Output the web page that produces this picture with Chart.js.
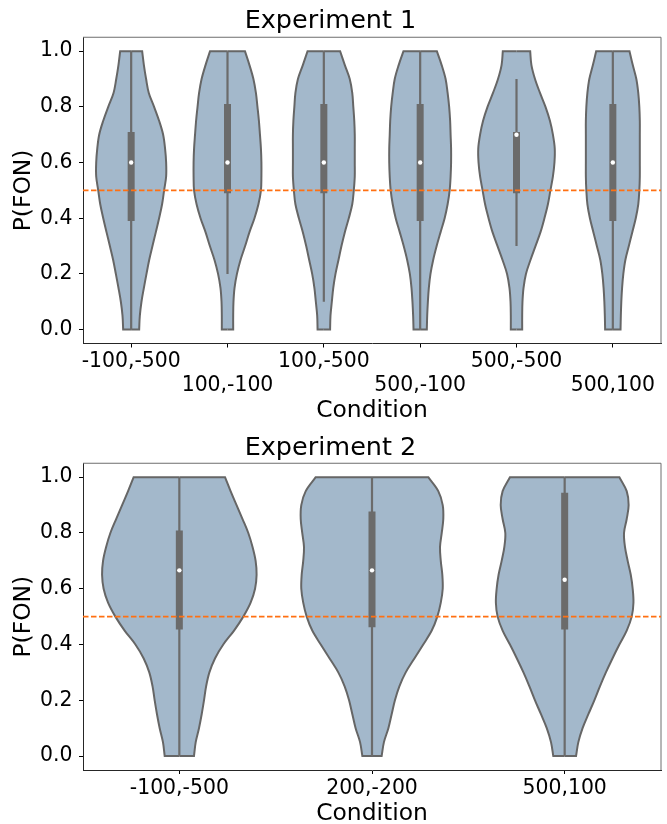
<!DOCTYPE html>
<html>
<head>
<meta charset="utf-8">
<script src="https://cdn.jsdelivr.net/npm/chart.js@4.4.1/dist/chart.umd.min.js"></script>
<style>
  html, body { margin: 0; padding: 0; background: #fff; }
  #wrap { width: 667px; height: 824px; }
  canvas { display: block; }
</style>
</head>
<body>
<div id="wrap">
  <canvas id="exp1" width="667" height="430"></canvas>
  <canvas id="exp2" width="667" height="394"></canvas>
</div>
<script>
// y levels at which the violin half-widths were read (bottom to top)
const levels = [0, 0.05, 0.1, 0.15, 0.2, 0.25, 0.3, 0.35, 0.4, 0.45, 0.5,
                0.55, 0.6, 0.65, 0.7, 0.75, 0.8, 0.85, 0.9, 0.95, 1.0];
const yTicks = [0, 0.2, 0.4, 0.6, 0.8, 1.0];
const chance = 0.5;

// Experiment 1
const exp1Conditions = ['-100,-500', '100,-100', '100,-500', '500,-100', '500,-500', '500,100'];
const exp1Widths = [
  [0.083, 0.09, 0.107, 0.132, 0.159, 0.187, 0.221, 0.256, 0.29, 0.321, 0.342, 0.363, 0.363, 0.352, 0.332, 0.29, 0.238, 0.183, 0.155, 0.132, 0.114],
  [0.059, 0.059, 0.062, 0.073, 0.098, 0.135, 0.183, 0.228, 0.28, 0.321, 0.347, 0.352, 0.352, 0.347, 0.337, 0.326, 0.311, 0.295, 0.269, 0.228, 0.181],
  [0.065, 0.069, 0.083, 0.098, 0.121, 0.152, 0.183, 0.218, 0.259, 0.295, 0.311, 0.321, 0.321, 0.321, 0.321, 0.316, 0.306, 0.295, 0.269, 0.218, 0.169],
  [0.069, 0.073, 0.08, 0.09, 0.107, 0.135, 0.171, 0.212, 0.254, 0.285, 0.306, 0.316, 0.321, 0.321, 0.316, 0.311, 0.301, 0.285, 0.264, 0.223, 0.173],
  [0.059, 0.059, 0.062, 0.073, 0.098, 0.145, 0.197, 0.249, 0.29, 0.326, 0.352, 0.378, 0.394, 0.397, 0.378, 0.347, 0.301, 0.244, 0.192, 0.155, 0.142],
  [0.08, 0.083, 0.088, 0.096, 0.109, 0.13, 0.166, 0.202, 0.238, 0.264, 0.275, 0.28, 0.28, 0.28, 0.28, 0.28, 0.275, 0.264, 0.244, 0.207, 0.173]
];
const exp1Low = [0, 0.2, 0.1, 0, 0.3, 0];
const exp1High = [1, 1, 1, 1, 0.9, 1];
const exp1Q1 = [0.39, 0.49, 0.49, 0.39, 0.49, 0.39];
const exp1Q3 = [0.71, 0.81, 0.81, 0.81, 0.71, 0.81];
const exp1Median = [0.6, 0.6, 0.6, 0.6, 0.7, 0.6];

// Experiment 2
const exp2Conditions = ['-100,-500', '200,-200', '500,100'];
const exp2Widths = [
  [0.076, 0.085, 0.102, 0.116, 0.128, 0.139, 0.156, 0.185, 0.228, 0.284, 0.332, 0.37, 0.393, 0.401, 0.396, 0.38, 0.358, 0.328, 0.297, 0.266, 0.237],
  [0.05, 0.062, 0.085, 0.102, 0.119, 0.142, 0.175, 0.22, 0.266, 0.31, 0.339, 0.357, 0.367, 0.365, 0.357, 0.353, 0.362, 0.37, 0.367, 0.344, 0.292],
  [0.059, 0.071, 0.093, 0.123, 0.154, 0.183, 0.214, 0.248, 0.284, 0.322, 0.348, 0.357, 0.353, 0.343, 0.327, 0.313, 0.308, 0.322, 0.332, 0.322, 0.284]
];
const exp2Low = [0, 0, 0];
const exp2High = [1, 1, 1];
const exp2Q1 = [0.454, 0.462, 0.454];
const exp2Q3 = [0.809, 0.877, 0.944];
const exp2Median = [0.666, 0.666, 0.632];

const violinFill = '#a3b8cb';
const edgeGray = '#666666';
const boxGray = '#6b6b6b';
const orange = '#ff7012';
const font = 'DejaVu Sans';

// top and right spines
const framePlugin = {
  id: 'frame',
  beforeDatasetsDraw(chart) {
    const {ctx, chartArea: a} = chart;
    ctx.save();
    ctx.strokeStyle = '#6e6e6e';
    ctx.lineWidth = 1;
    ctx.beginPath();
    ctx.moveTo(a.left, a.top);
    ctx.lineTo(a.right, a.top);
    ctx.lineTo(a.right, a.bottom);
    ctx.stroke();
    ctx.restore();
  }
};

function violinChart(id, p) {
  const n = p.cats.length;
  const last = levels.length - 1;
  const datasets = [];
  datasets.push({
    data: [{x: -0.5, y: chance}, {x: n - 0.5, y: chance}],
    borderColor: orange, borderWidth: 1.7, borderDash: [5.5, 2.5],
    pointRadius: 0, fill: false, order: 1
  });
  p.cats.forEach((c, i) => {
    const w = p.widths[i];
    // outline of one half; the corner points are repeated to keep the flat ends square
    const side = sign => {
      const pts = levels.map((y, k) => ({x: i + sign * w[k], y}));
      return [{x: i, y: levels[0]}, pts[0]].concat(pts, [pts[last], {x: i, y: levels[last]}]);
    };
    datasets.push({
      data: side(1), indexAxis: 'y', borderColor: edgeGray, borderWidth: 2,
      backgroundColor: violinFill, fill: '+1', tension: 0.35, pointRadius: 0, order: 7
    });
    datasets.push({
      data: side(-1), indexAxis: 'y', borderColor: edgeGray, borderWidth: 2,
      fill: false, tension: 0.35, pointRadius: 0, order: 6
    });
    datasets.push({
      data: [{x: i, y: p.low[i]}, {x: i, y: p.high[i]}],
      borderColor: boxGray, borderWidth: 2.2, pointRadius: 0, fill: false, order: 4
    });
    datasets.push({
      data: [{x: i, y: p.q1[i]}, {x: i, y: p.q3[i]}],
      borderColor: boxGray, borderWidth: 7, borderCapStyle: 'butt',
      pointRadius: 0, fill: false, order: 3
    });
    datasets.push({
      data: [{x: i, y: p.median[i]}],
      showLine: false, pointRadius: 2.2, pointBackgroundColor: '#ffffff',
      pointBorderWidth: 0, order: 2
    });
  });

  return new Chart(document.getElementById(id), {
    type: 'line',
    data: {datasets},
    plugins: [framePlugin],
    options: {
      responsive: false,
      animation: false,
      devicePixelRatio: 1,
      events: [],
      layout: {padding: {left: 0, right: 6, top: 0, bottom: 0}},
      plugins: {
        legend: {display: false},
        tooltip: {enabled: false},
        title: {
          display: true, text: p.title, color: '#000',
          font: {family: font, size: 25.5, weight: 'normal', lineHeight: 1.1},
          padding: p.titlePad
        }
      },
      scales: {
        x: {
          type: 'linear', min: -0.5, max: n - 0.5,
          afterBuildTicks: s => { s.ticks = p.cats.map((c, i) => ({value: i})); },
          afterFit: s => { s.height = p.xHeight; },
          grid: {drawOnChartArea: false, drawTicks: true, tickLength: 4, tickColor: '#000'},
          border: {display: true, color: '#262626', width: 1},
          ticks: {
            autoSkip: false, maxRotation: 0, minRotation: 0, color: '#000',
            padding: 2.4,
            font: {family: font, size: 20.4, lineHeight: 1.16},
            callback: (v, i) => (p.stagger && i % 2 === 1) ? ['', p.cats[i]] : p.cats[i]
          },
          title: {
            display: true, text: 'Condition', color: '#000',
            font: {family: font, size: 23.4, lineHeight: 0.85},
            padding: {top: 0, bottom: p.xTitleBottom}
          }
        },
        y: {
          type: 'linear', min: -0.05, max: 1.05,
          afterBuildTicks: s => { s.ticks = yTicks.map(v => ({value: v})); },
          afterFit: s => { s.width = 83; },
          grid: {drawOnChartArea: false, drawTicks: true, tickLength: 4, tickColor: '#000'},
          border: {display: true, color: '#262626', width: 1},
          ticks: {
            color: '#000', padding: 6.5,
            font: {family: font, size: 20.4},
            callback: v => Number(v).toFixed(1)
          },
          title: {
            display: true, text: 'P(FON)', color: '#000',
            font: {family: font, size: 23.4, lineHeight: 1.2},
            padding: {top: 10, bottom: 0}
          }
        }
      }
    }
  });
}

violinChart('exp1', {
  title: 'Experiment 1', cats: exp1Conditions, widths: exp1Widths,
  low: exp1Low, high: exp1High, q1: exp1Q1, q3: exp1Q3, median: exp1Median,
  stagger: true, titlePad: {top: 7.5, bottom: 1.7}, xHeight: 86.5, xTitleBottom: 9
});

violinChart('exp2', {
  title: 'Experiment 2', cats: exp2Conditions, widths: exp2Widths,
  low: exp2Low, high: exp2High, q1: exp2Q1, q3: exp2Q3, median: exp2Median,
  stagger: false, titlePad: {top: 4.5, bottom: 0.7}, xHeight: 54, xTitleBottom: 0
});
</script>
</body>
</html>
